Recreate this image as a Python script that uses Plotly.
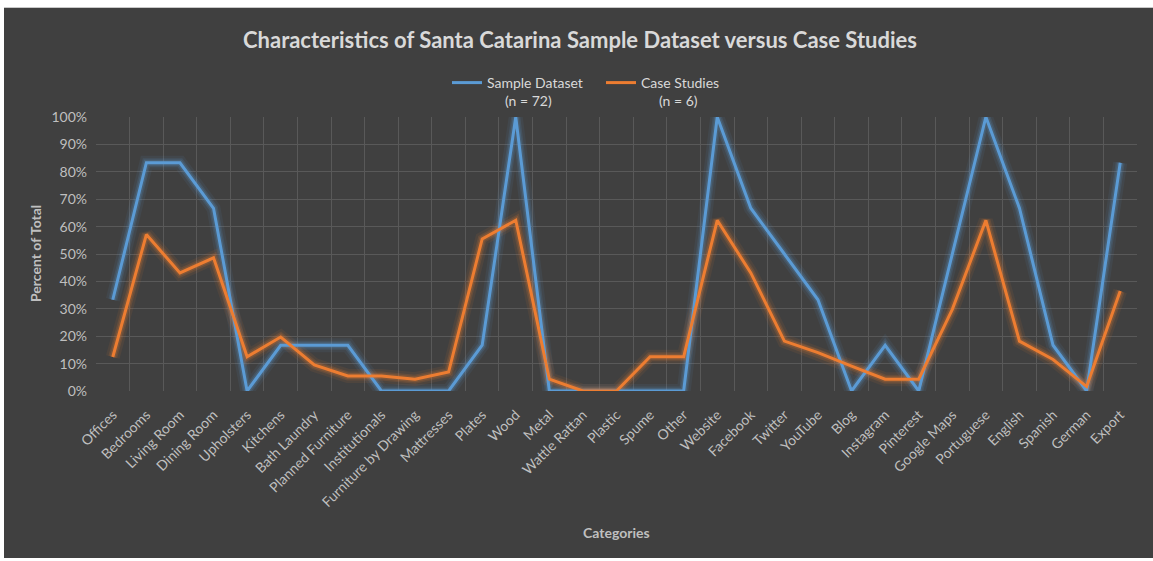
import plotly.graph_objects as go

categories = ["Offices", "Bedrooms", "Living Room", "Dining Room", "Upholsters", "Kitchens",
              "Bath Laundry", "Planned Furniture", "Institutionals", "Furniture by Drawing",
              "Mattresses", "Plates", "Wood", "Metal", "Wattle Rattan", "Plastic", "Spume",
              "Other", "Website", "Facebook", "Twitter", "YouTube", "Blog", "Instagram",
              "Pinterest", "Google Maps", "Portuguese", "English", "Spanish", "German", "Export"]

sample_dataset = [0.333, 0.833, 0.833, 0.667, 0.0, 0.167, 0.167, 0.167, 0.0, 0.0,
                  0.0, 0.167, 1.0, 0.0, 0.0, 0.0, 0.0, 0.0, 1.0, 0.667,
                  0.5, 0.333, 0.0, 0.167, 0.0, 0.5, 1.0, 0.667, 0.167, 0.0, 0.833]

case_studies = [0.124, 0.571, 0.431, 0.486, 0.125, 0.197, 0.095, 0.055, 0.055, 0.043,
                0.069, 0.555, 0.623, 0.043, 0.0, 0.0, 0.125, 0.125, 0.623, 0.431,
                0.182, 0.14, 0.091, 0.043, 0.043, 0.298, 0.623, 0.182, 0.115, 0.016, 0.365]

series_names = ["Sample Dataset<br>\u00a0\u00a0\u00a0\u00a0\u00a0(n = 72)",
                "Case Studies<br>\u00a0\u00a0\u00a0\u00a0\u00a0(n = 6)"]

BLUE = "#5B9BD5"
ORANGE = "#ED7D31"
BG = "#404040"
GRID = "#595959"
TXT = "#d9d9d9"
TICK = "#bfbfbf"
FONT = "Lato"

fig = go.Figure()

# glow layers
for vals, col in [(sample_dataset, BLUE), (case_studies, ORANGE)]:
    for w, op in [(14, 0.08), (9, 0.14), (6, 0.2)]:
        fig.add_trace(go.Scatter(x=categories, y=vals, mode="lines",
                                 line=dict(color=col, width=w), opacity=op,
                                 showlegend=False, hoverinfo="skip"))

fig.add_trace(go.Scatter(x=categories, y=sample_dataset, mode="lines", name=series_names[0],
                         line=dict(color=BLUE, width=3)))
fig.add_trace(go.Scatter(x=categories, y=case_studies, mode="lines", name=series_names[1],
                         line=dict(color=ORANGE, width=3)))

L, R, T, B = 96, 16, 117, 170
W, H = 1153, 561
pw, ph = W - L - R, H - T - B

def px(xp):
    return (xp - L) / pw

def py(yp):
    return (H - B - yp) / ph

fig.update_layout(
    width=W, height=H,
    margin=dict(l=L, r=R, t=T, b=B),
    paper_bgcolor=BG, plot_bgcolor=BG,
    font=dict(family=FONT, color=TXT),
    title=dict(text="<b>Characteristics of Santa Catarina Sample Dataset versus Case Studies</b>",
               x=580 / W, xanchor="center", xref="container", y=1 - 40 / H, yanchor="middle",
               font=dict(size=22, color=TXT, family=FONT)),
    legend=dict(orientation="h", x=px(447), xanchor="left", y=py(67), yanchor="top",
                font=dict(size=14, color=TXT, family=FONT), bgcolor="rgba(0,0,0,0)",
                valign="top", itemwidth=30, entrywidth=109),
    showlegend=True,
    xaxis=dict(type="category", range=[-0.5, len(categories) - 0.5], tickson="boundaries",
               showgrid=True, gridcolor=GRID, gridwidth=1, tickangle=-45,
               tickfont=dict(size=14, color=TICK, family=FONT), ticklabelstandoff=12,
               showline=False, zeroline=False, ticks=""),
    yaxis=dict(range=[0, 1], dtick=0.1, tickformat=".0%", showgrid=True, gridcolor=GRID,
               tickfont=dict(size=14, color=TICK, family=FONT), zeroline=False,
               showline=False, ticks="", ticklabelstandoff=8),
    annotations=[
        dict(text="<b>Percent of Total</b>", xref="paper", yref="paper", x=px(35), y=0.5,
             xanchor="center", yanchor="middle",
             textangle=-90, showarrow=False, font=dict(size=14, color=TICK, family=FONT)),
        dict(text="<b>Categories</b>", xref="paper", yref="paper", x=0.5, y=py(532),
             xanchor="center", yanchor="middle",
             showarrow=False, font=dict(size=14, color=TICK, family=FONT)),
    ],
    shapes=[
        dict(type="rect", xref="paper", yref="paper", x0=px(0), x1=px(W), y0=py(0), y1=py(7),
             fillcolor="white", line=dict(width=0), layer="above"),
        dict(type="rect", xref="paper", yref="paper", x0=px(0), x1=px(W), y0=py(7), y1=py(8),
             fillcolor="#c8c8c8", line=dict(width=0), layer="above"),
        dict(type="rect", xref="paper", yref="paper", x0=px(0), x1=px(4), y0=py(0), y1=py(H),
             fillcolor="white", line=dict(width=0), layer="above"),
        dict(type="rect", xref="paper", yref="paper", x0=px(0), x1=px(W), y0=py(558), y1=py(H),
             fillcolor="white", line=dict(width=0), layer="above"),
    ],
)

fig.write_html("out.html")
